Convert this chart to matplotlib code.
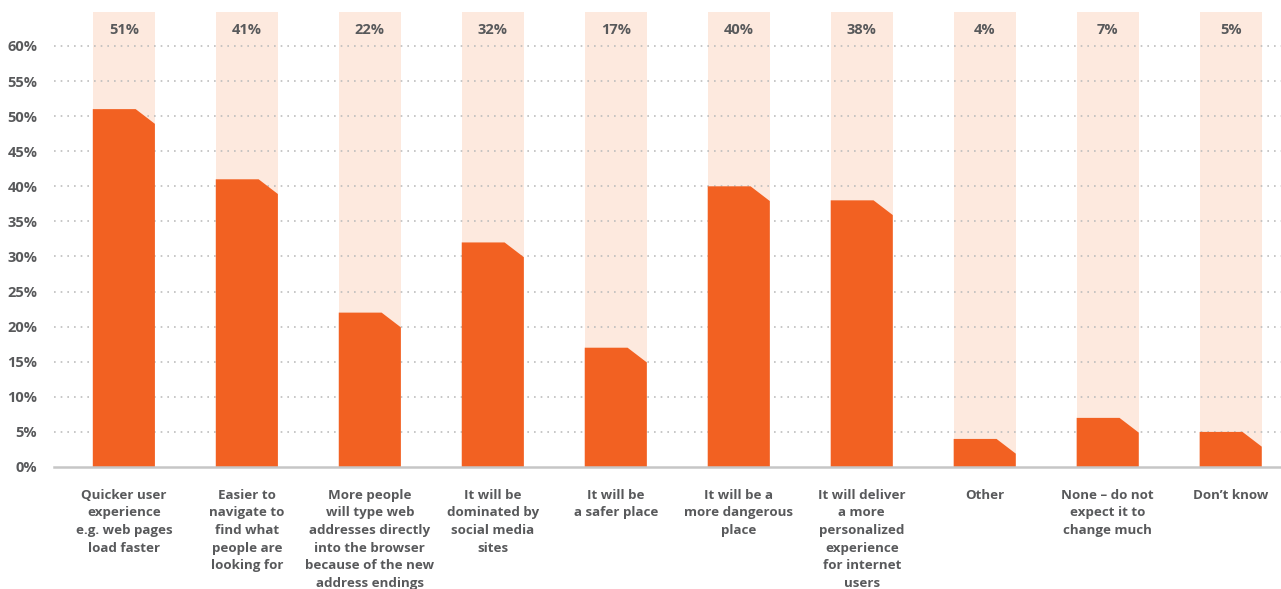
import matplotlib
matplotlib.use("Agg")
import matplotlib.pyplot as plt
from matplotlib.patches import Polygon, Rectangle

categories = [
    "Quicker user\nexperience\ne.g. web pages\nload faster",
    "Easier to\nnavigate to\nfind what\npeople are\nlooking for",
    "More people\nwill type web\naddresses directly\ninto the browser\nbecause of the new\naddress endings",
    "It will be\ndominated by\nsocial media\nsites",
    "It will be\na safer place",
    "It will be a\nmore dangerous\nplace",
    "It will deliver\na more\npersonalized\nexperience\nfor internet\nusers",
    "Other",
    "None – do not\nexpect it to\nchange much",
    "Don’t know",
]
values = [51, 41, 22, 32, 17, 40, 38, 4, 7, 5]
yticks = [0, 5, 10, 15, 20, 25, 30, 35, 40, 45, 50, 55, 60]
ytick_labels = [f"{t}%" for t in yticks]

BAR = "#F26122"
BAND = "#FDE9DE"
TXT = "#58595B"
FONT = ["Open Sans", "DejaVu Sans"]

fig = plt.figure(figsize=(12.81, 5.89), dpi=100)
ax = fig.add_axes([54 / 1281, 1 - 467 / 589, 1227 / 1281, 467 / 589])
ax.set_xlim(-0.568, 9.409)
ax.set_ylim(0, 66.55)

w = 0.505
band_top = 64.8
cut = 2.1
flat = 0.69

for i, v in enumerate(values):
    x0 = i - w / 2
    ax.add_patch(Rectangle((x0, 0), w, band_top, facecolor=BAND, edgecolor="none", zorder=0))
    poly = [(x0, 0), (x0, v), (x0 + flat * w, v), (x0 + w, v - cut), (x0 + w, 0)]
    ax.add_patch(Polygon(poly, closed=True, facecolor=BAR, edgecolor="none", zorder=2))
    ax.text(i, 62.3, f"{v}%", ha="center", va="center", fontsize=10.5, fontweight="bold",
            color=TXT, family=FONT, zorder=3)

for t in yticks[1:]:
    ax.axhline(t, color="#BDBDBD", lw=1.2, ls=(0, (1, 3)), zorder=1)

ax.set_yticks(yticks)
ax.set_yticklabels(ytick_labels, fontsize=10.5, fontweight="bold", color=TXT, family=FONT)
ax.set_xticks(range(len(categories)))
ax.set_xticklabels(categories, fontsize=9.6, fontweight="bold", color=TXT, family=FONT,
                   va="top", linespacing=1.47)
ax.tick_params(axis="y", length=0, pad=12)
ax.tick_params(axis="x", length=0, pad=15.5)

for s in ["top", "right", "left"]:
    ax.spines[s].set_visible(False)
ax.spines["bottom"].set_color("#C6C6C6")
ax.spines["bottom"].set_linewidth(1.8)
ax.spines["bottom"].set_zorder(4)

fig.savefig("out.png", dpi=100)
